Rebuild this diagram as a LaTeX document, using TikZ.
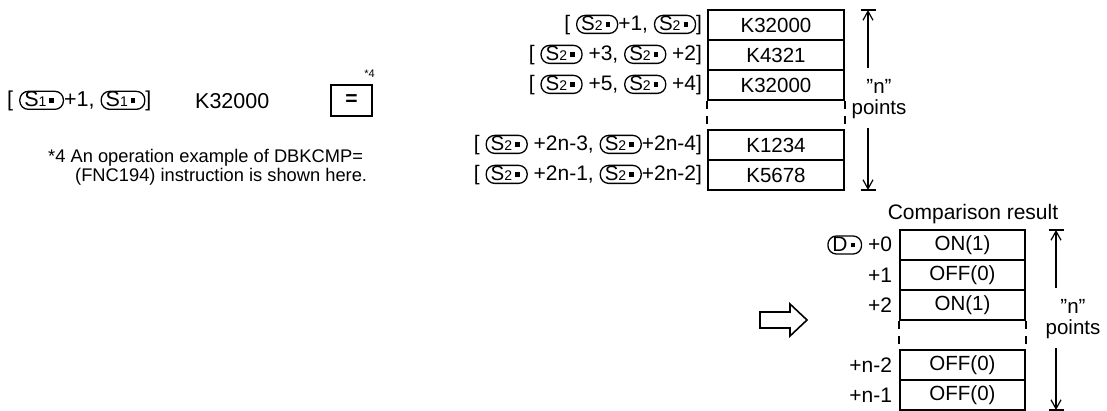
\documentclass[tikz,border=0pt]{standalone}
\usepackage{fontspec}
\setmainfont{Liberation Sans}
\usetikzlibrary{arrows.meta}
\newsavebox\ovalSone
\newsavebox\ovalStwo
\newsavebox\ovalDev
% operand symbol: letter, small index and dot in a rounded frame
\newcommand{\devoval}[3]{\setbox0\hbox{#1{\fontsize{14}{14}\selectfont #2}\hspace{3pt}\rule[4pt]{4.5pt}{4.5pt}}%
\begin{pgfpicture}
\pgfsetbaseline{0pt}
\pgfsetlinewidth{1.3pt}
\pgfsetcornersarced{\pgfpoint{8.5pt}{8.5pt}}
\pgfpathrectangle{\pgfpoint{0pt}{-2.5pt}}{\pgfpoint{\wd0+#3}{18pt}}
\pgfusepath{stroke}
\pgftext[left,base,x=4.5pt]{\box0}
\end{pgfpicture}}
\newcommand{\Sone}{\usebox\ovalSone}
\newcommand{\Stwo}{\usebox\ovalStwo}
\newcommand{\Ddev}{\usebox\ovalDev}
\newcommand{\qn}{\symbol{34}n\symbol{34}}
\tikzset{
  txt/.style={inner sep=0pt,font=\fontsize{21}{18}\selectfont},
  lbl/.style={txt,anchor=east},
  pts/.style={inner sep=0pt,align=center,font=\fontsize{20.5}{21}\selectfont},
  cell/.style={draw,line width=1.6pt,minimum width=136pt,minimum height=30pt,inner sep=0pt,font=\fontsize{20.5}{22}\selectfont},
  gapline/.style={line width=1.6pt,dash pattern=on 8pt off 7pt},
  dimline/.style={line width=1.2pt},
  dimtip/.style={-{Straight Barb[length=9pt,width=10pt,line width=1.2pt]}}
}
\begin{document}
\sbox\ovalSone{\fontsize{21.5}{22}\selectfont\devoval{S}{1}{14pt}}
\sbox\ovalStwo{\fontsize{20.5}{22}\selectfont\devoval{S}{2}{12pt}}
\sbox\ovalDev{\fontsize{21}{22}\selectfont\devoval{D}{}{11pt}}
\begin{tikzpicture}[x=1pt,y=-1pt]
\useasboundingbox (0,0) rectangle (1107,411);
% compared value
\node[txt,anchor=west,font=\fontsize{21.5}{22}\selectfont] (sone) at (7,101) {[ \Sone+1, \Sone]};
\node[txt,anchor=west,font=\fontsize{21.5}{22}\selectfont] (kval) at (195,101) {K32000};
\node[draw,line width=1.6pt,minimum width=41pt,minimum height=31pt,font=\fontsize{21}{22}\selectfont\bfseries] (eq) at (351.5,100.5) {=};
\node[inner sep=0pt,anchor=south east,font=\fontsize{11}{11}\selectfont] (mark) at (375,78) {*4};
\node[txt,anchor=west,font=\fontsize{18.3}{18}\selectfont] (noteA) at (48,158) {*4 An operation example of DBKCMP=};
\node[txt,anchor=west,font=\fontsize{18.3}{18}\selectfont] (noteB) at (75,177) {(FNC194) instruction is shown here.};
% comparison source table
\node[cell] (t1) at (776,25) {K32000};
\node[cell] (t2) at (776,55) {K4321};
\node[cell] (t3) at (776,85) {K32000};
\node[cell] (t4) at (776,145) {K1234};
\node[cell] (t5) at (776,175) {K5678};
\draw[gapline] (t3.south west) -- (t4.north west);
\draw[gapline] (t3.south east) -- (t4.north east);
\node[lbl] (s1) at ([xshift=-5pt]t1.west) {[ \Stwo+1, \Stwo]};
\node[lbl] (s2) at ([xshift=-5pt]t2.west) {[ \Stwo\ +3, \Stwo\ +2]};
\node[lbl] (s3) at ([xshift=-5pt]t3.west) {[ \Stwo\ +5, \Stwo\ +4]};
\node[lbl] (s4) at ([xshift=-5pt]t4.west) {[ \Stwo\ +2n-3, \Stwo+2n-4]};
\node[lbl] (s5) at ([xshift=-5pt]t5.west) {[ \Stwo\ +2n-1, \Stwo+2n-2]};
\coordinate (ttop) at (868,10);
\coordinate (tbot) at (868,190);
\coordinate (tgapA) at (868,68);
\coordinate (tgapB) at (868,128);
\node[pts] (tn) at (879,99) {\qn\\points};
\draw[dimline,dimtip] (tgapA) -- (ttop);
\draw[dimline,dimtip] (tgapB) -- (tbot);
\draw[dimline] ([xshift=-7.5pt]ttop) -- ([xshift=7.5pt]ttop);
\draw[dimline] ([xshift=-7.5pt]tbot) -- ([xshift=7.5pt]tbot);
% result arrow
\draw[line width=1.6pt] (760,312) -- (790,312) -- (790,304) -- (807,320) -- (790,336) -- (790,328) -- (760,328) -- cycle;
% comparison result table
\node[txt] (cmp) at (973,214) {Comparison result};
\node[cell,minimum width=125pt] (b1) at (962.5,245) {ON(1)};
\node[cell,minimum width=125pt] (b2) at (962.5,275) {OFF(0)};
\node[cell,minimum width=125pt] (b3) at (962.5,305) {ON(1)};
\node[cell,minimum width=125pt] (b4) at (962.5,365) {OFF(0)};
\node[cell,minimum width=125pt] (b5) at (962.5,395) {OFF(0)};
\draw[gapline] (b3.south west) -- (b4.north west);
\draw[gapline] (b3.south east) -- (b4.north east);
\node[lbl] (d1) at ([xshift=-7pt]b1.west) {\Ddev\ +0};
\node[lbl] (d2) at ([xshift=-7pt]b2.west) {+1};
\node[lbl] (d3) at ([xshift=-7pt]b3.west) {+2};
\node[lbl] (d4) at ([xshift=-7pt]b4.west) {+n-2};
\node[lbl] (d5) at ([xshift=-7pt]b5.west) {+n-1};
\coordinate (btop) at (1056,230);
\coordinate (bbot) at (1056,410);
\coordinate (bgapA) at (1056,288);
\coordinate (bgapB) at (1056,348);
\node[pts] (bn) at (1073,319) {\qn\\points};
\draw[dimline,dimtip] (bgapA) -- (btop);
\draw[dimline,dimtip] (bgapB) -- (bbot);
\draw[dimline] ([xshift=-7.5pt]btop) -- ([xshift=7.5pt]btop);
\draw[dimline] ([xshift=-7.5pt]bbot) -- ([xshift=7.5pt]bbot);
\end{tikzpicture}
\end{document}
